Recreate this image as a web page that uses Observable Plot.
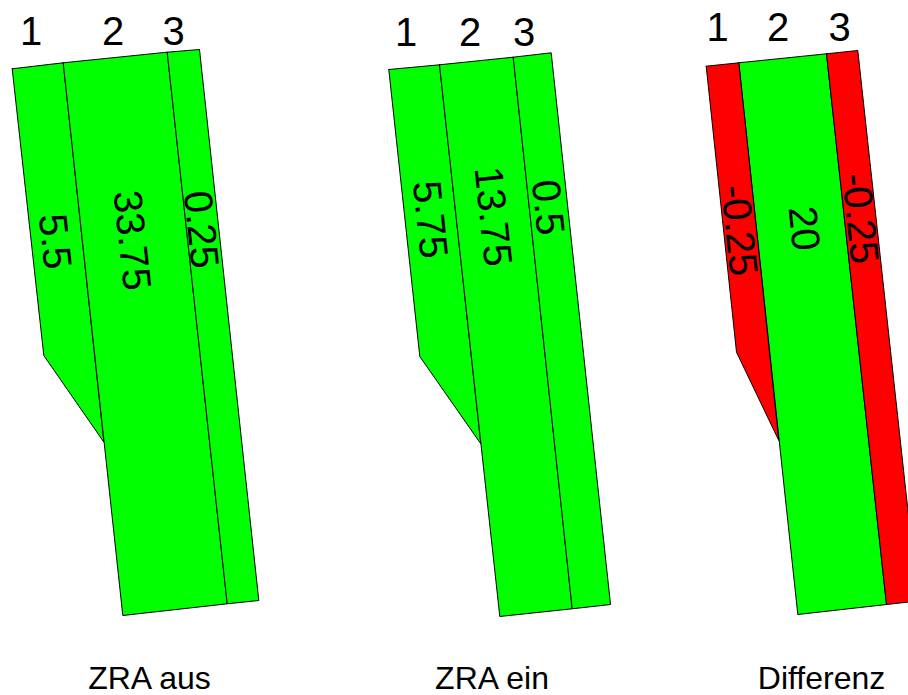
<!DOCTYPE html>
<html>
<head>
<meta charset="utf-8">
<script src="https://cdn.jsdelivr.net/npm/d3@7"></script>
<script src="https://cdn.jsdelivr.net/npm/@observablehq/plot@0.6"></script>
<style>
  html, body { margin: 0; padding: 0; background: #fff; }
  #chart svg { display: block; }
</style>
</head>
<body>
<div id="chart"></div>
<script>
// ---------- data ----------
const panels = ["ZRA aus", "ZRA ein", "Differenz"];
const lanes = ["1", "2", "3"];

// lane values per panel
const valuesAus  = [5.5, 33.75, 0.25];
const valuesEin  = [5.75, 13.75, 0.5];
const valuesDiff = [-0.25, 20, -0.25];

// road geometry (sketch coordinates), one outline per lane
const outlineAus = [
  [[11.7, 68.3], [62.7, 62.3], [103.4, 441.7], [43.3, 355]],
  [[62.7, 62.3], [166.7, 51.7], [226.7, 603.3], [122.3, 615]],
  [[166.7, 51.7], [199, 49], [258.3, 600], [226.7, 603.3]]
];
const outlineEin = [
  [[388.3, 69], [439, 64.3], [480.3, 443.3], [419.3, 356]],
  [[439, 64.3], [512.7, 56.7], [571.7, 608.3], [499.3, 616]],
  [[512.7, 56.7], [550.7, 52.3], [610, 604], [571.7, 608.3]]
];
const outlineDiff = [
  [[705.7, 65.7], [738.3, 62.3], [778.3, 440], [736, 351.7]],
  [[738.3, 62.3], [826, 53.3], [886, 604], [797.3, 614]],
  [[826, 53.3], [857.3, 50], [917.3, 600.5], [886, 604]]
];

// anchor points of the lane value labels
const labelAnchorAus  = [[54, 241], [131, 240], [200, 229]];
const labelAnchorEin  = [[429, 219], [492, 216], [547, 207]];
const labelAnchorDiff = [[738, 230], [803, 228], [859, 218]];

// anchor points of the lane numbers above each road
const laneNumAnchorAus  = [[30.7, 44], [112.5, 44], [173, 44]];
const laneNumAnchorEin  = [[405.5, 45.5], [469.5, 45.5], [523.5, 45.5]];
const laneNumAnchorDiff = [[717, 40], [777.5, 40], [839, 40]];

// anchor points of the panel captions
const captionAnchor = [[149, 688], [491.5, 688], [821, 688]];

// ---------- tables ----------
const values = [valuesAus, valuesEin, valuesDiff];
const outlines = [outlineAus, outlineEin, outlineDiff];
const labelAnchors = [labelAnchorAus, labelAnchorEin, labelAnchorDiff];
const laneNumAnchors = [laneNumAnchorAus, laneNumAnchorEin, laneNumAnchorDiff];

const laneRings = [];
const valueLabels = [];
const laneNumbers = [];
panels.forEach((panel, p) => {
  lanes.forEach((lane, l) => {
    const v = values[p][l];
    const pts = outlines[p][l];
    [...pts, pts[0]].forEach(([x, y]) =>
      laneRings.push({id: `${p}-${l}`, panel, lane, value: v, x, y}));
    const [lx, ly] = labelAnchors[p][l];
    valueLabels.push({x: lx, y: ly, text: String(v)});
    const [nx, ny] = laneNumAnchors[p][l];
    laneNumbers.push({x: nx, y: ny, text: lane});
  });
});
const captions = panels.map((t, p) => ({x: captionAnchor[p][0], y: captionAnchor[p][1], text: t}));

// ---------- chart ----------
const W = 908, H = 695;
const font = "'Liberation Sans', Arial, Helvetica, sans-serif";

const chart = Plot.plot({
  width: W,
  height: H,
  margin: 0,
  x: {domain: [0, W], range: [0, W], axis: null},
  y: {domain: [0, H], range: [0, H], axis: null},
  style: {fontFamily: font, background: "#fff", color: "#000"},
  marks: [
    Plot.line(laneRings.filter(d => d.value >= 0), {
      x: "x", y: "y", z: "id", fill: "#00ff00", stroke: "#000",
      strokeWidth: 1, strokeLinejoin: "miter", clip: true
    }),
    Plot.line(laneRings.filter(d => d.value < 0), {
      x: "x", y: "y", z: "id", fill: "#ff0000", stroke: "#000",
      strokeWidth: 1, strokeLinejoin: "miter", clip: true
    }),
    Plot.text(valueLabels, {
      x: "x", y: "y", text: "text", rotate: 84, fontSize: 40,
      textAnchor: "middle", lineAnchor: "middle", fill: "#000", fontFamily: font
    }),
    Plot.text(laneNumbers, {
      x: "x", y: "y", text: "text", fontSize: 40,
      textAnchor: "middle", lineAnchor: "bottom", fill: "#000", fontFamily: font
    }),
    Plot.text(captions, {
      x: "x", y: "y", text: "text", fontSize: 32,
      textAnchor: "middle", lineAnchor: "bottom", fill: "#000", fontFamily: font
    })
  ]
});
document.getElementById("chart").appendChild(chart);
</script>
</body>
</html>
